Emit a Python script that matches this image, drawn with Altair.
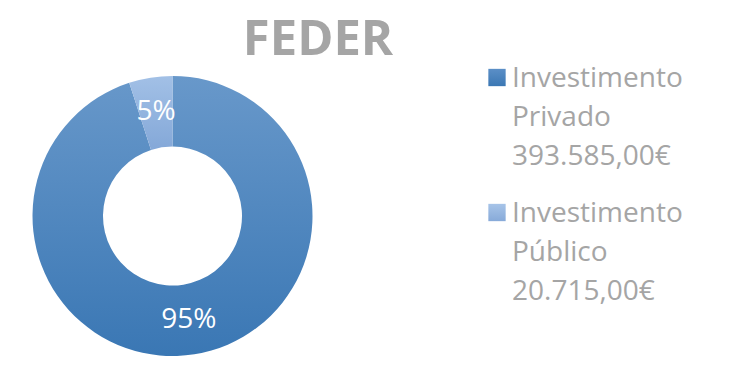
import altair as alt
import pandas as pd

# ---- data ----
categories = ["Investimento Privado", "Investimento Público"]
values = [393585, 20715]
value_labels = ["393.585,00€", "20.715,00€"]
order_idx = [0, 1]
title_text = ["FEDER"]

df = pd.DataFrame({
    "cat": categories,
    "value": values,
    "vlabel": value_labels,
    "idx": order_idx,
})

GRAY = "#a5a5a5"
FONT = "Open Sans"

grad_priv = {
    "gradient": "linear", "x1": 0, "y1": 0, "x2": 0, "y2": 1,
    "stops": [{"offset": 0, "color": "#6898ca"}, {"offset": 1, "color": "#3a77b4"}],
}
grad_pub = {
    "gradient": "linear", "x1": 0, "y1": 0, "x2": 0, "y2": 1,
    "stops": [{"offset": 0, "color": "#a2c0e6"}, {"offset": 1, "color": "#84a8d8"}],
}
grad_sym_priv = {
    "gradient": "linear", "x1": 0, "y1": 0, "x2": 0, "y2": 1,
    "stops": [{"offset": 0, "color": "#5b8fc7"}, {"offset": 1, "color": "#3b77b3"}],
}
grad_sym_pub = {
    "gradient": "linear", "x1": 0, "y1": 0, "x2": 0, "y2": 1,
    "stops": [{"offset": 0, "color": "#a7c4e8"}, {"offset": 1, "color": "#87aad9"}],
}

is_priv = alt.datum.cat == categories[0]

base = alt.Chart(df).transform_joinaggregate(
    total="sum(value)"
).transform_calculate(
    pct="round(datum.value / datum.total * 100) + '%'",
    legend_text="replace(datum.cat, ' ', '\\n') + '\\n' + datum.vlabel",
)

cx, cy = 172.5, 216

arcs = base.mark_arc(outerRadius=140, innerRadius=69.5).encode(
    theta=alt.Theta("value:Q", stack=True),
    detail="cat:N",
    order=alt.Order("idx:Q", sort="ascending"),
    color=alt.condition(is_priv, alt.value(grad_priv), alt.value(grad_pub)),
    x=alt.value(cx),
    y=alt.value(cy),
)

pct_text = base.mark_text(
    radius=105, font=FONT, fontSize=28, color="white", align="center", baseline="middle"
).encode(
    theta=alt.Theta("value:Q", stack=True),
    detail="cat:N",
    order=alt.Order("idx:Q", sort="ascending"),
    text="pct:N",
    x=alt.value(cx),
    y=alt.value(cy),
)

yscale = alt.Scale(domain=[0, 1], range=[87, 222], zero=False, nice=False)

leg_sym = base.mark_square(size=300, yOffset=-9.5, opacity=1).encode(
    x=alt.value(497),
    y=alt.Y("idx:Q", scale=yscale, axis=None),
    color=alt.condition(is_priv, alt.value(grad_sym_priv), alt.value(grad_sym_pub)),
)

leg_text = base.mark_text(
    font=FONT, fontSize=28, color=GRAY, align="left", baseline="alphabetic",
    lineBreak="\n", lineHeight=39,
).encode(
    x=alt.value(512),
    y=alt.Y("idx:Q", scale=yscale, axis=None),
    text="legend_text:N",
)

title = alt.Chart(pd.DataFrame({"t": title_text})).mark_text(
    font=FONT, fontSize=49, fontWeight="bold", color=GRAY, align="center", baseline="alphabetic"
).encode(
    x=alt.value(318),
    y=alt.value(55),
    text="t:N",
)

chart = alt.layer(arcs, pct_text, leg_sym, leg_text, title).properties(
    width=730, height=373, autosize=alt.AutoSizeParams(type="none"), padding=0,
    background="white",
).configure_view(stroke=None)

chart.save("out.html", embed_options={"renderer": "svg", "actions": False})
